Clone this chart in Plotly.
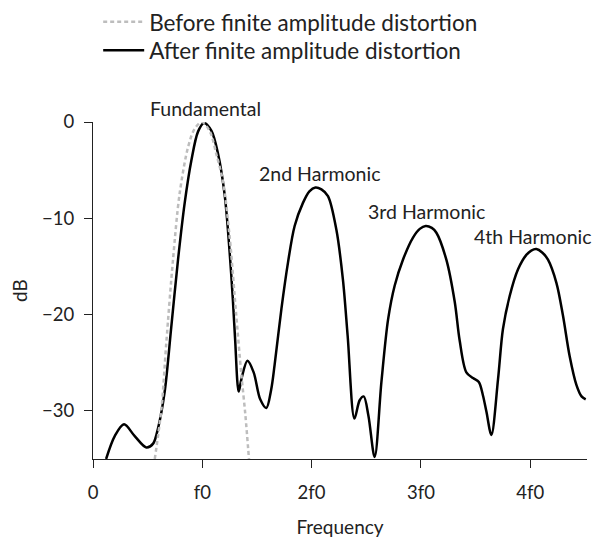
import plotly.graph_objects as go

# After finite amplitude distortion (black solid)
after_x = [0.12, 0.20, 0.284, 0.38, 0.488, 0.55, 0.595, 0.656, 0.717, 0.778, 0.839, 0.90, 0.961, 1.016,
           1.083, 1.144, 1.205, 1.25, 1.28, 1.30, 1.333, 1.36, 1.413, 1.47, 1.53, 1.586, 1.63, 1.662,
           1.724, 1.784, 1.845, 1.921, 1.98, 2.035, 2.09, 2.15, 2.227, 2.287, 2.33, 2.392, 2.44, 2.477, 2.52, 2.577,
           2.639, 2.70, 2.76, 2.836, 2.928, 2.99, 3.044, 3.10, 3.142, 3.233, 3.31, 3.355, 3.416, 3.477, 3.53, 3.568,
           3.60, 3.645, 3.706, 3.751, 3.812, 3.889, 3.965, 4.01, 4.057, 4.11, 4.163, 4.24, 4.30, 4.361, 4.423,
           4.47, 4.508]
after_y = [-35.0, -32.6, -31.4, -32.6, -33.8, -33.4, -31.8, -28.0, -21.2, -14.3, -8.4, -4.0, -1.0, -0.1,
           -0.9, -3.3, -7.6, -13.5, -18.5, -22.5, -28.0, -26.6, -24.8, -26.0, -28.8, -29.7, -27.8, -25.2,
           -19.4, -14.6, -10.8, -8.4, -7.2, -6.8, -7.0, -7.7, -11.2, -16.4, -22.2, -30.8, -28.9, -28.5, -30.5, -34.8,
           -27.0, -20.5, -17.0, -14.3, -12.0, -11.1, -10.8, -11.0, -11.5, -14.3, -18.7, -22.7, -26.0, -26.6, -27.0, -28.4,
           -30.1, -32.5, -26.7, -21.5, -18.1, -15.3, -13.8, -13.35, -13.2, -13.55, -14.3, -16.7, -20.1, -24.3, -27.3,
           -28.5, -28.8]

# Before finite amplitude distortion (grey dashed)
before_x = [0.565, 0.626, 0.671, 0.732, 0.793, 0.87, 0.93, 0.997, 1.07, 1.13, 1.19, 1.25, 1.31, 1.358, 1.394, 1.427]
before_y = [-35.0, -29.8, -22.9, -14.3, -7.4, -2.6, -0.7, 0.0, -1.0, -3.4, -6.2, -11.9, -20.0, -26.3, -30.4, -35.0]

tick_vals_x = [0, 1, 2, 3, 4]
tick_text_x = ["0", "f0", "2f0", "3f0", "4f0"]
tick_vals_y = [0, -10, -20, -30]

labels = ["Fundamental", "2nd Harmonic", "3rd Harmonic", "4th Harmonic"]
label_x = [1.03, 2.07, 3.05, 4.07]
label_y = [0.0, -5.3, -9.3, -11.9]
label_yshift = [14, 0, 0, 0]
label_xshift = [0, 0, 0, -5]

FONT = "Lato"
TXT = "#222"

fig = go.Figure()
fig.add_trace(go.Scatter(x=after_x, y=after_y, mode="lines", name="After finite amplitude distortion",
                         line=dict(color="black", width=2.5, shape="spline", smoothing=0.9),
                         legend="legend2"))
fig.add_trace(go.Scatter(x=before_x, y=before_y, mode="lines", name="Before finite amplitude distortion",
                         line=dict(color="#bdbdbd", width=2.5, dash="4px,3px", shape="spline", smoothing=0.9),
                         legend="legend"))

for t, x, y, sy, sx in zip(labels, label_x, label_y, label_yshift, label_xshift):
    fig.add_annotation(x=x, y=y, yshift=sy, xshift=sx, text=t, showarrow=False, xanchor="center",
                       yanchor="middle", font=dict(family=FONT, size=19.5, color=TXT))

legend_style = dict(xanchor="left", yanchor="middle", bgcolor="rgba(0,0,0,0)",
                    font=dict(family=FONT, size=22.5, color=TXT), itemwidth=41)

fig.update_layout(
    width=595, height=530,
    margin=dict(l=85, r=16, t=114, b=79, autoexpand=False),
    plot_bgcolor="white", paper_bgcolor="white",
    font=dict(family=FONT, size=18.5, color=TXT),
    showlegend=True,
    legend=dict(x=0.0105, y=1.296, **legend_style),
    legend2=dict(x=0.0105, y=1.212, **legend_style),
    xaxis=dict(range=[0, 4.52], tickvals=tick_vals_x, ticktext=tick_text_x, ticks="outside", ticklen=8,
               tickcolor=TXT, tickwidth=1.3, showline=True, linecolor=TXT, linewidth=1.3,
               showgrid=False, zeroline=False, ticklabelstandoff=9,
               title=dict(text="Frequency", standoff=18, font=dict(size=19))),
    yaxis=dict(range=[-35, 0], tickvals=tick_vals_y, ticks="outside", ticklen=8,
               tickcolor=TXT, tickwidth=1.3, showline=True, linecolor=TXT, linewidth=1.3,
               showgrid=False, zeroline=False, ticklabelstandoff=6,
               title=dict(text="dB", standoff=14, font=dict(size=19))),
)

fig.write_html("out.html")
